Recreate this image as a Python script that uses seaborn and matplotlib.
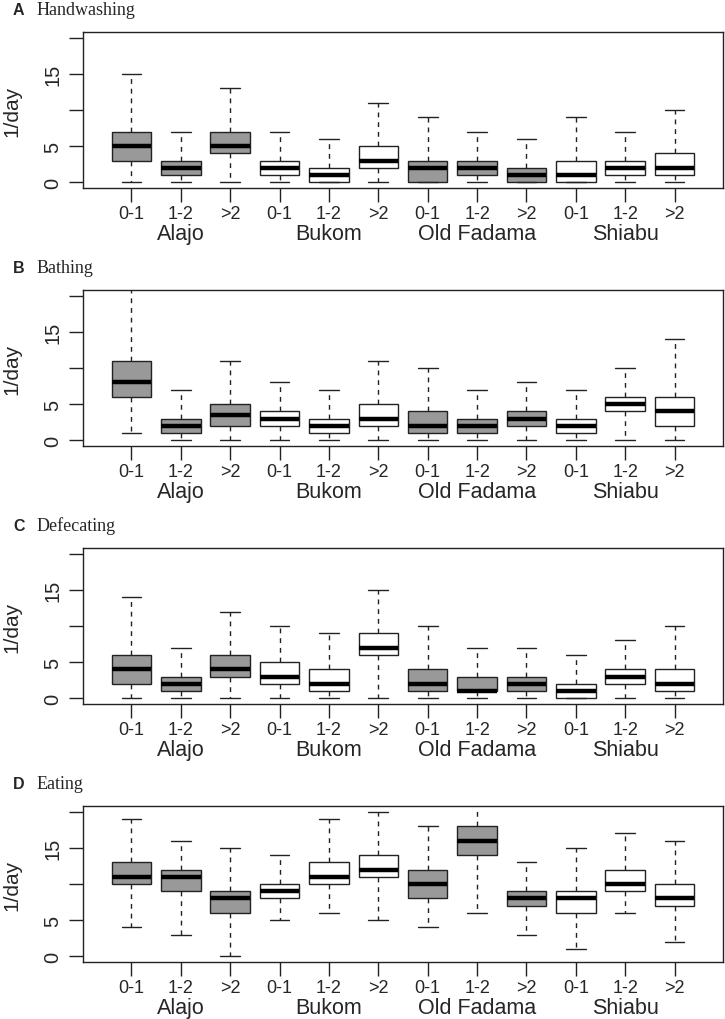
import numpy as np
import pandas as pd
import matplotlib
matplotlib.use("Agg")
import matplotlib.pyplot as plt
import seaborn as sns

villages = ["Alajo", "Bukom", "Old Fadama", "Shiabu"]
ages = ["0-1", "1-2", ">2"]
letters = ["A", "B", "C", "D"]
activities = ["Handwashing", "Bathing", "Defecating", "Eating"]
shaded = ["Alajo", "Old Fadama"]

# five-number summaries, 12 boxes per panel (village x age)
hand_lo = [0, 0, 0, 0, 0, 0, 0, 0, 0, 0, 0, 0]
hand_q1 = [3, 1, 4, 1, 0, 2, 0, 1, 0, 0, 1, 1]
hand_med = [5, 2, 5, 2, 1, 3, 2, 2, 1, 1, 2, 2]
hand_q3 = [7, 3, 7, 3, 2, 5, 3, 3, 2, 3, 3, 4]
hand_hi = [15, 7, 13, 7, 6, 11, 9, 7, 6, 9, 7, 10]

bath_lo = [1, 0, 0, 0, 0, 0, 0, 0, 0, 0, 0, 0]
bath_q1 = [6, 1, 2, 2, 1, 2, 1, 1, 2, 1, 4, 2]
bath_med = [8, 2, 3.5, 3, 2, 3, 2, 2, 3, 2, 5, 4]
bath_q3 = [11, 3, 5, 4, 3, 5, 4, 3, 4, 3, 6, 6]
bath_hi = [22, 7, 11, 8, 7, 11, 10, 7, 8, 7, 10, 14]

defe_lo = [0, 0, 0, 0, 0, 0, 0, 0, 0, 0, 0, 0]
defe_q1 = [2, 1, 3, 2, 1, 6, 1, 1, 1, 0, 2, 1]
defe_med = [4, 2, 4, 3, 2, 7, 2, 1, 2, 1, 3, 2]
defe_q3 = [6, 3, 6, 5, 4, 9, 4, 3, 3, 2, 4, 4]
defe_hi = [14, 7, 12, 10, 9, 15, 10, 7, 7, 6, 8, 10]

eat_lo = [4, 3, 0, 5, 6, 5, 4, 6, 3, 1, 6, 2]
eat_q1 = [10, 9, 6, 8, 10, 11, 8, 14, 7, 6, 9, 7]
eat_med = [11, 11, 8, 9, 11, 12, 10, 16, 8, 8, 10, 8]
eat_q3 = [13, 12, 9, 10, 13, 14, 12, 18, 9, 9, 12, 10]
eat_hi = [19, 16, 15, 14, 19, 20, 18, 22, 13, 15, 17, 16]

panels = [
    (hand_lo, hand_q1, hand_med, hand_q3, hand_hi),
    (bath_lo, bath_q1, bath_med, bath_q3, bath_hi),
    (defe_lo, defe_q1, defe_med, defe_q3, defe_hi),
    (eat_lo, eat_q1, eat_med, eat_q3, eat_hi),
]

keys = [v + "|" + a for v in villages for a in ages]
pal = {k: ("#999999" if k.split("|")[0] in shaded else "white") for k in keys}

sns.set_style("ticks")
plt.rcParams["font.family"] = ["Liberation Sans", "DejaVu Sans"]

W, H = 725, 1020
fig = plt.figure(figsize=(W / 100, H / 100), dpi=100)

for p, stats in enumerate(panels):
    rows = []
    for i, k in enumerate(keys):
        # five points -> linear quartiles hit q1/median/q3 exactly
        for s in stats:
            rows.append((k, s[i]))
    d = pd.DataFrame(rows, columns=["key", "value"])

    top = 33 + p * 258
    ax = fig.add_axes([83 / W, 1 - (top + 156) / H, 640 / W, 156 / H])
    sns.boxplot(data=d, x="key", y="value", hue="key", order=keys, hue_order=keys,
                palette=pal, legend=False, saturation=1, whis=(0, 100), width=0.8,
                linecolor="#222222", linewidth=1.0, showfliers=False,
                medianprops={"color": "black", "linewidth": 3.2, "solid_capstyle": "butt"},
                whiskerprops={"linestyle": (0, (3.5, 3.5)), "color": "#222222"},
                capprops={"linestyle": "-", "color": "#222222"},
                ax=ax)
    ax.set_xlim(-0.98, 11.98)
    ax.set_ylim(-0.8, 20.8)
    ax.set_xlabel("")
    ax.set_ylabel("")
    ax.set_xticks(range(12))
    ax.set_xticklabels(ages * 4, fontsize=13)
    ax.set_yticks([0, 5, 10, 15, 20])
    ax.set_yticklabels(["0", "5", "", "15", ""], fontsize=14.5, rotation=90, va="center")
    ax.tick_params(axis="x", length=10, width=1, pad=2, color="#222222")
    ax.tick_params(axis="y", length=10, width=1, pad=5, color="#222222")
    for sp in ax.spines.values():
        sp.set_linewidth(1.0)
        sp.set_color("#222222")

    for j, v in enumerate(villages):
        ax.annotate(v, xy=(3 * j + 1, 0), xycoords=("data", "axes fraction"),
                    xytext=(0, -36.5), textcoords="offset points",
                    ha="center", va="baseline", fontsize=15.5)
    ax.text(-0.111, 0.5, "1/day", transform=ax.transAxes, rotation=90,
            ha="center", va="center", fontsize=15)

    base = 1 - (15 + p * 258) / H
    fig.text(13 / W, base, letters[p], fontsize=11.5, fontweight="bold",
             ha="left", va="baseline")
    fig.text(37 / W, base, activities[p], fontsize=13, ha="left", va="baseline",
             family=["Liberation Serif", "DejaVu Serif"])

fig.savefig("out.png", dpi=100)
